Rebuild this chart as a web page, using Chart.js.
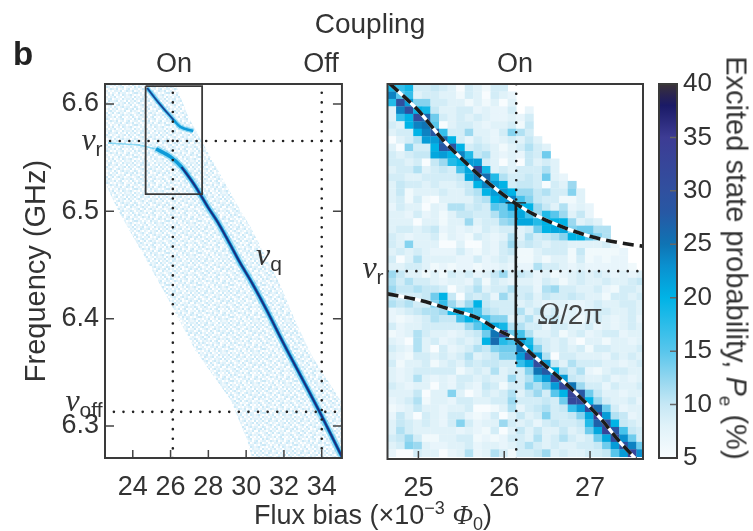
<!DOCTYPE html>
<html><head><meta charset="utf-8">
<style>
html,body{margin:0;padding:0;background:#fff;width:753px;height:531px;overflow:hidden}
body{filter:blur(0.45px)}
canvas{position:absolute}
.t{position:absolute;transform:translate(-50%,-50%);font-family:"Liberation Sans",Arial,sans-serif;color:#333;white-space:nowrap;font-size:27px;line-height:1}
.n{font-family:"Liberation Serif",serif;font-style:italic;font-size:32px}
.s{font-size:21px;position:relative;top:6px;font-family:"Liberation Sans",sans-serif;font-style:normal}
</style>
<script src="https://cdn.jsdelivr.net/npm/chart.js@4/dist/chart.umd.js"></script>
</head><body>
<canvas id="left" width="350" height="531" style="left:0;top:0"></canvas>
<canvas id="right" width="270" height="531" style="left:380px;top:0"></canvas>
<canvas id="bar" width="75" height="531" style="left:650px;top:0"></canvas>
<div class="t" style="left:370px;top:24px;font-size:28px">Coupling</div>
<div class="t" style="left:23px;top:53px;font-size:33px;font-weight:bold;color:#222">b</div>
<div class="t" style="left:174px;top:63px">On</div>
<div class="t" style="left:321px;top:63px">Off</div>
<div class="t" style="left:515px;top:63px">On</div>
<div class="t" style="left:92px;top:139px"><span class="n">ν</span><span class="s">r</span></div>
<div class="t" style="left:84px;top:400px"><span class="n">ν</span><span class="s">off</span></div>
<div class="t" style="left:269px;top:254px"><span class="n">ν</span><span class="s">q</span></div>
<div class="t" style="left:373px;top:267px"><span class="n">ν</span><span class="s">r</span></div>
<div class="t" style="left:570px;top:313px;font-size:28px;color:#444"><span style="font-family:'Liberation Serif',serif;font-style:italic;font-size:31px">Ω</span>/2π</div>
<div class="t" style="left:373px;top:515px;font-size:27px">Flux bias (×10<sup style="font-size:18px;line-height:0">−3</sup> <span style="font-family:'Liberation Serif',serif;font-style:italic">Φ</span><sub style="font-size:18px;line-height:0">0</sub>)</div>
<div class="t" style="left:736px;top:258px;font-size:29px;transform:translate(-50%,-50%) rotate(90deg)">Excited state probability, <i>P</i><sub style="font-size:19px;line-height:0">e</sub> (%)</div>
<script>
// ---- left panel (overview) ----
const leftTicksX = [24, 26, 28, 30, 32, 34];
const leftTicksY = [6.3, 6.4, 6.5, 6.6];
const bandFlux = [22.59,26.26,26.94,27.82,29.68,30.2,31.76,32.64,33.52,35.07,35.07,30.31,30.05,29.17,27.3,25.9,24.5,23.21,22.59];
const bandFreq = [6.6186,6.6186,6.5879,6.56,6.5013,6.4864,6.4333,6.3961,6.3644,6.3216,6.2704,6.2704,6.2872,6.3244,6.3709,6.4175,6.4613,6.5013,6.5246];
const faintFlux = [22.69,24.35,25.23];
const faintFreq = [6.5637,6.5618,6.5581];
const lowerFlux = [25.23,26.0,26.58,27.3,27.97,28.49,29.11,29.68,30.31,31.08,32.02,33.0,33.83,35.07];
const lowerFreq = [6.5581,6.5507,6.5413,6.5236,6.5041,6.4901,6.4706,6.452,6.4333,6.4082,6.3756,6.343,6.3151,6.2713];
const upperFlux = [24.76,25.38,26.16,26.52,27.2];
const upperFreq = [6.6149,6.6009,6.5851,6.5786,6.5749];
const boxFlux = [24.68,27.67,27.67,24.68,24.68];
const boxFreq = [6.6166,6.6166,6.516,6.516,6.6166];
const nuR = 6.5655, nuOff = 6.3132, fluxOn = 26.12, fluxOff = 34.0;
// hand-typed speckle texture of the sparse scan
const speckle = ["1203120213012021","2130212301210312","0213103212302103","3120231021021230","1302012310231201","2013201203102312","1230312021301023","0312102312012130","2101230130231201","1320213201102312","2031021213023010","1203132010212301","3012201321301202","2130120102213013","1023312021031220","2310102130120321"];
// ---- right panel (zoomed heat map) ----
const rightTicksX = [25, 26, 27];
const heatFlux = [24.69,24.79,24.89,24.99,25.09,25.19,25.29,25.39,25.49,25.59,25.69,25.79,25.89,25.99,26.09,26.19,26.29,26.39,26.49,26.59,26.69,26.79,26.89,26.99,27.09,27.19,27.29,27.39,27.49,27.59];
const heatFreq = [6.6156,6.6136,6.6116,6.6096,6.6076,6.6056,6.6036,6.6016,6.5996,6.5976,6.5956,6.5936,6.5916,6.5896,6.5876,6.5856,6.5836,6.5816,6.5796,6.5776,6.5756,6.5736,6.5716,6.5696,6.5676,6.5656,6.5636,6.5616,6.5596,6.5576,6.5556,6.5536,6.5516,6.5496,6.5476,6.5456,6.5436,6.5416,6.5396,6.5376,6.5356,6.5336,6.5316,6.5296,6.5276,6.5256,6.5236,6.5216,6.5196,6.5176];
const heatRows = [
[19,17,19,9,9,10,9,8,5,9,8,6,9,9],
[24,15,17,8,9,9,8,8,6,9,8,5,9,8,7],
[18,30,22,13,13,9,9,8,8,6,8,6,8,5,8],
[8,24,30,20,19,10,8,8,9,9,7,8,7,7,9,0,7],
[8,17,20,31,27,14,9,8,9,8,9,8,7,7,8,7,9],
[9,8,20,24,25,15,5,8,9,9,8,7,8,8,9,6,10],
[8,9,9,20,24,28,17,9,9,12,8,8,7,9,13,11,9],
[5,8,9,11,22,22,26,20,9,7,9,8,7,8,9,8,10,8],
[8,5,13,9,9,20,28,29,20,9,10,9,8,6,8,9,11,9,8],
[9,8,9,10,10,21,22,20,24,18,10,11,8,7,8,7,10,9,14],
[9,9,8,9,5,10,12,18,20,22,22,9,8,5,8,5,10,8,9,8],
[8,9,9,11,8,9,10,9,16,21,32,19,8,9,8,9,9,9,11,8],
[9,9,8,8,9,9,9,9,10,21,24,26,18,11,9,9,10,9,14,8,7],
[8,10,9,9,8,9,8,8,9,10,20,24,22,20,9,10,10,9,5,9,8,12],
[8,10,6,8,8,8,9,8,8,10,11,20,22,22,20,12,12,10,11,9,9,13,8],
[8,9,6,9,6,5,8,8,8,8,10,11,20,22,24,16,13,10,9,9,6,6,8],
[7,9,8,8,5,8,7,11,11,9,10,9,15,14,22,20,20,12,10,8,11,7,8,7],
[8,8,7,9,7,8,6,8,10,10,9,9,11,14,15,21,16,12,18,15,12,8,10,7],
[8,8,8,5,8,8,6,8,8,12,8,9,9,12,13,21,21,18,20,20,20,12,8,9,8],
[8,9,9,8,9,10,7,8,7,8,7,9,8,9,9,8,9,14,20,21,21,13,14,14,11,11],
[9,8,7,8,8,9,6,8,7,6,9,8,7,8,11,8,11,9,10,11,13,20,20,15,13,11],
[9,8,13,8,8,8,5,5,8,5,5,8,7,9,12,9,10,9,8,9,9,8,8,8,8,9,7],
[8,9,8,9,8,7,7,7,9,7,6,8,7,9,10,6,6,8,9,9,9,6,10,6,6,6,6,7],
[9,5,8,11,8,8,8,8,7,7,9,7,8,9,8,6,6,8,6,8,8,6,9,6,7,6,7,7],
[8,8,9,9,8,6,7,6,7,7,6,7,7,8,7,7,7,11,9,9,8,7,8,7,7,7,7,7,6],
[12,10,8,8,6,8,6,9,8,9,7,8,10,12,8,10,9,7,8,6,7,8,9,8,9,8,7,8,7,8],
[11,9,11,9,9,8,7,8,8,7,10,6,9,8,7,8,8,7,9,8,6,8,9,8,8,9,8,8,9,10],
[12,10,10,11,10,10,9,5,8,9,11,8,9,9,11,9,9,7,11,12,9,9,8,8,9,7,6,9,9,8],
[10,9,9,9,10,14,20,10,5,10,9,10,7,12,9,9,10,8,10,9,9,10,9,8,8,6,9,9,8,9],
[11,10,11,9,9,13,17,12,9,12,20,10,9,9,9,8,9,8,7,8,8,7,7,8,9,8,8,9,9,8],
[7,8,9,10,11,11,12,19,20,18,16,11,10,9,9,11,8,10,8,9,7,8,7,8,9,9,8,8,9,8],
[7,6,7,8,9,11,10,10,16,20,18,16,13,13,8,9,11,8,9,10,8,8,6,8,9,8,7,8,9,7],
[9,7,8,8,9,9,9,9,9,12,15,20,21,19,11,11,9,9,7,9,9,8,8,9,7,8,7,8,9,8],
[6,7,8,11,9,8,8,7,8,9,10,14,25,31,14,16,11,8,8,9,6,8,9,7,8,9,9,7,8,8],
[8,7,5,11,8,9,7,8,9,8,9,20,26,18,16,22,18,10,9,8,9,7,5,8,8,6,8,8,7,8],
[9,8,7,11,8,5,9,7,8,9,11,10,13,14,14,25,20,13,9,8,9,8,9,6,9,9,8,8,8,9],
[8,7,6,9,9,8,9,8,9,11,8,9,10,13,13,22,31,22,11,5,9,9,8,8,8,7,9,8,9,8],
[9,6,8,8,9,6,8,9,8,10,9,10,10,9,9,17,21,31,22,10,8,11,9,9,9,8,8,7,8,9],
[8,7,8,9,9,9,9,9,6,8,9,8,11,8,9,9,13,25,28,20,11,9,11,7,6,8,9,9,8,8],
[8,7,8,11,8,7,8,7,9,9,8,9,8,8,12,9,11,16,22,31,22,10,9,8,8,9,7,8,7,8],
[9,8,7,8,8,5,8,7,9,8,7,10,9,6,9,9,13,11,14,22,32,25,12,9,9,7,9,8,8,9],
[8,8,8,10,5,8,8,13,8,5,7,9,8,9,11,8,10,12,9,15,20,33,28,14,10,8,8,7,8,8],
[7,8,9,11,6,8,8,7,9,9,8,8,9,9,12,9,9,9,10,9,14,32,31,20,12,9,8,8,9,7],
[6,7,8,10,8,8,7,8,8,9,5,5,6,8,11,7,9,10,11,9,10,17,22,31,26,14,9,7,8,8],
[7,10,8,5,9,8,7,9,9,7,6,7,9,5,8,10,8,9,13,9,9,10,13,21,35,22,11,10,7,8],
[8,10,9,8,9,8,7,9,13,9,7,8,8,12,9,8,9,7,9,10,9,9,10,18,27,30,20,10,9,8],
[8,11,9,8,8,8,8,8,7,8,7,6,9,5,8,10,8,10,8,8,10,8,9,14,21,33,29,16,10,9],
[9,10,12,9,6,6,8,8,9,9,6,7,6,7,9,9,8,11,8,9,11,9,8,9,14,21,31,23,14,9],
[8,9,13,12,8,7,7,8,8,9,7,8,8,7,8,9,11,9,8,9,8,8,9,9,10,14,22,30,24,14],
[7,5,5,9,8,8,5,7,8,11,7,8,11,9,6,9,9,10,12,8,9,8,8,9,9,10,15,22,33,23]
];
const fitUpperFlux = [24.67,24.995,25.286,25.542,25.775,26.124,26.357,26.706,27.02,27.346,27.61];
const fitUpperFreq = [6.6166,6.6096,6.6016,6.5957,6.5908,6.5847,6.5815,6.578,6.5756,6.574,6.5731];
const fitLowerFlux = [24.64,24.995,25.39,25.694,25.926,26.124,26.357,26.671,26.94,27.137,27.346,27.533];
const fitLowerFreq = [6.5603,6.5587,6.556,6.5538,6.5506,6.5482,6.5434,6.5372,6.5313,6.5265,6.5206,6.516];
const rabiFlux = 26.135, rabiTop = 6.5847, rabiBottom = 6.5482, rabiCap = 0.12;
const rightOn = 26.14, rightNuR = 6.5664;
// ---- colour bar ----
const barTicks = [5,10,15,20,25,30,35,40];
const colorLevels = [5,8,10,12,15,20,23,25,28,30,35,38,39,40];
const colorHexes = ['#f8fcfe','#e0f2f9','#c6e8f5','#9cd9f0','#58c6ec','#00b3e6','#0a90cf','#0f74b4','#2758a4','#30509f','#3d3c94','#1a1a66','#2a2450','#3b3338'];

const FONT = {family:'"Liberation Sans",Arial,sans-serif', size:27};
const BARFONT = {family:FONT.family, size:26};
const INK = '#333';
function hex(h){return [1,3,5].map(i=>parseInt(h.substr(i,2),16));}
function colorFor(v){
  for(let i=1;i<colorLevels.length;i++){
    if(v<=colorLevels[i]){
      const f=(v-colorLevels[i-1])/(colorLevels[i]-colorLevels[i-1]);
      const a=hex(colorHexes[i-1]),b=hex(colorHexes[i]);
      return 'rgb('+a.map((c,k)=>Math.round(c+(b[k]-c)*Math.max(f,0))).join(',')+')';
    }
  }
  return colorHexes[colorHexes.length-1];
}
function zip(xs,ys){return xs.map((x,i)=>({x,y:ys[i]}));}
function line(xs,ys,o){return Object.assign({type:'scatter',showLine:true,pointRadius:0,data:zip(xs,ys),borderWidth:2,tension:0},o);}
const dots = {borderColor:'#222',borderWidth:2.6,borderDash:[0.01,9.6],borderCapStyle:'round'};
const smooth = {cubicInterpolationMode:'monotone'};

function speckleFill(){
  const shades=['#ffffff','#edf7fc','#deF1fa','#cbe9f7'];
  const c=document.createElement('canvas');c.width=c.height=32;
  const g=c.getContext('2d');
  speckle.forEach((row,j)=>[...row].forEach((ch,i)=>{g.fillStyle=shades[+ch];g.fillRect(i*2,j*2,2,2);}));
  return g.createPattern(c,'repeat');
}
const framePlugin = {
  id:'frame',
  beforeDatasetsDraw(ch){
    const {ctx,chartArea:a,scales:{x,y}}=ch;
    ctx.save();ctx.beginPath();ctx.rect(a.left,a.top,a.right-a.left,a.bottom-a.top);ctx.clip();
    ch.data.datasets.forEach(ds=>{
      if(ds.heat){
        const hw=ds.cellW/2,hh=ds.cellH/2;
        ds.data.forEach(p=>{
          const l=x.getPixelForValue(p.x-hw),r=x.getPixelForValue(p.x+hw),t=y.getPixelForValue(p.y+hh),b=y.getPixelForValue(p.y-hh);
          ctx.fillStyle=colorFor(p.v);ctx.fillRect(l,t,r-l+0.3,b-t+0.3);
        });
      }
    });
    if(ch.options.plugins.frame.gradient){
      const g=ctx.createLinearGradient(0,y.getPixelForValue(5),0,y.getPixelForValue(40));
      colorLevels.forEach((lv,i)=>g.addColorStop((lv-5)/35,colorHexes[i]));
      ctx.fillStyle=g;ctx.fillRect(a.left,a.top,a.right-a.left,a.bottom-a.top);
    }
    ctx.restore();
  },
  afterDatasetsDraw(ch,_,opt){
    const {ctx,chartArea:a,scales:{x,y}}=ch;
    ctx.save();ctx.strokeStyle=opt.tickColor||'#444';ctx.lineWidth=1.5;ctx.beginPath();
    if(opt.xTick) x.ticks.forEach(t=>{const p=x.getPixelForValue(t.value);ctx.moveTo(p,a.bottom);ctx.lineTo(p,a.bottom-opt.xTick);});
    if(opt.yTickL) y.ticks.forEach(t=>{const p=y.getPixelForValue(t.value);ctx.moveTo(a.left,p);ctx.lineTo(a.left+opt.yTickL,p);});
    if(opt.yTickR) y.ticks.forEach(t=>{if(t.value>5&&t.value<40||!opt.skipEnds){const p=y.getPixelForValue(t.value);ctx.moveTo(a.right,p);ctx.lineTo(a.right-opt.yTickR,p);}});
    ctx.stroke();
    ctx.strokeStyle='#3a3a3a';ctx.lineWidth=2;ctx.strokeRect(a.left,a.top,a.right-a.left,a.bottom-a.top);
    ctx.restore();
  }
};
function xAxis(min,max,ticks,h){return {type:'linear',min,max,
  afterFit(s){s.height=h;},
  afterBuildTicks(s){s.ticks=ticks.map(v=>({value:v}));},
  grid:{display:false,drawTicks:false},border:{display:false},
  ticks:{font:FONT,color:INK,padding:13,autoSkip:false,maxRotation:0,callback:v=>String(v)}};}
function build(id,datasets,scales,frame,padding){
  return new Chart(document.getElementById(id),{type:'scatter',
    data:{datasets:datasets.slice().reverse()},
    plugins:[framePlugin],
    options:{responsive:false,animation:false,devicePixelRatio:1,layout:{padding},scales,
      plugins:{legend:{display:false},tooltip:{enabled:false},frame}}});
}
const dotV=(x,a,b)=>line([x,x],[a,b],dots), dotH=(y,a,b)=>line([a,b],[y,y],dots);

// left
build('left',[
  line(bandFlux,bandFreq,{borderWidth:0,fill:'shape',backgroundColor:speckleFill()}),
  line(faintFlux,faintFreq,{borderColor:'rgba(40,185,235,.5)',borderWidth:1.6}),
  line(lowerFlux,lowerFreq,Object.assign({borderColor:'rgba(40,185,235,.4)',borderWidth:7},smooth)),
  line(lowerFlux,lowerFreq,Object.assign({borderColor:'#0c9ad8',borderWidth:3.6},smooth)),
  line(lowerFlux.slice(2),lowerFreq.slice(2),Object.assign({borderColor:'#1b2f80',borderWidth:2},smooth)),
  line(upperFlux,upperFreq,Object.assign({borderColor:'rgba(40,185,235,.45)',borderWidth:5},smooth)),
  line(upperFlux,upperFreq,Object.assign({borderColor:'#0f9ad8',borderWidth:2.6},smooth)),
  line(upperFlux.slice(0,3),upperFreq.slice(0,3),Object.assign({borderColor:'#223a8c',borderWidth:1.3},smooth)),
  line(boxFlux,boxFreq,{borderColor:'#3a3a3a',borderWidth:1.8}),
  dotV(fluxOn,6.2702,6.6186),dotV(fluxOff,6.2702,6.6186),
  dotH(nuR,22.8,35.07),dotH(nuOff,23.0,35.07)
],{
  x:xAxis(22.53,35.07,leftTicksX,73),
  y:{type:'linear',min:6.2702,max:6.6186,
    afterFit(s){s.width=105;},
    afterBuildTicks(s){s.ticks=leftTicksY.map(v=>({value:v}));},
    grid:{display:false,drawTicks:false},border:{display:false},
    title:{display:true,text:'Frequency (GHz)',font:{family:FONT.family,size:29},color:INK,padding:{top:20,bottom:0}},
    ticks:{font:FONT,color:INK,padding:6,callback:v=>Number(v).toFixed(1)}}
},{xTick:8,yTickL:9,yTickR:9},{top:84,right:3});

// right
const cells=[];
heatRows.forEach((row,j)=>row.forEach((v,i)=>{if(v>0)cells.push({x:heatFlux[i],y:heatFreq[j],v});}));
const fitDash={borderColor:'#1c1c1c',borderWidth:3.6,borderDash:[11,6]};
build('right',[
  {type:'scatter',heat:true,cellW:0.1,cellH:0.002,pointRadius:0,data:cells},
  dotV(rightOn,6.516,6.6166),dotH(rightNuR,24.64,27.617),
  line(fitUpperFlux,fitUpperFreq,Object.assign({borderColor:'#fff',borderWidth:3.4},smooth)),
  line(fitUpperFlux,fitUpperFreq,Object.assign({},fitDash,smooth)),
  line(fitLowerFlux,fitLowerFreq,Object.assign({borderColor:'#fff',borderWidth:3.4},smooth)),
  line(fitLowerFlux,fitLowerFreq,Object.assign({},fitDash,smooth)),
  line([rabiFlux,rabiFlux],[rabiTop,rabiBottom],{borderColor:'#1c1c1c',borderWidth:2.6}),
  line([rabiFlux-rabiCap,rabiFlux+rabiCap],[rabiTop,rabiTop],{borderColor:'#1c1c1c',borderWidth:1.4}),
  line([rabiFlux-rabiCap,rabiFlux+rabiCap],[rabiBottom,rabiBottom],{borderColor:'#1c1c1c',borderWidth:1.4})
],{
  x:xAxis(24.64,27.617,rightTicksX,72),
  y:{type:'linear',display:false,min:6.516,max:6.6166}
},{xTick:8},{top:84,left:7.5,right:7});

// colour bar
build('bar',[{type:'scatter',data:[],pointRadius:0}],{
  x:{type:'linear',display:false,min:0,max:1},
  y:{type:'linear',position:'right',min:5,max:40,
    afterFit(s){s.width=48;},
    afterBuildTicks(s){s.ticks=barTicks.map(v=>({value:v}));},
    grid:{display:false,drawTicks:false},border:{display:false},
    ticks:{font:BARFONT,color:INK,padding:6,callback:v=>String(v)}}
},{gradient:true,yTickR:7,skipEnds:true,tickColor:'#666'},{top:84,bottom:73,left:9});
</script>
</body></html>
